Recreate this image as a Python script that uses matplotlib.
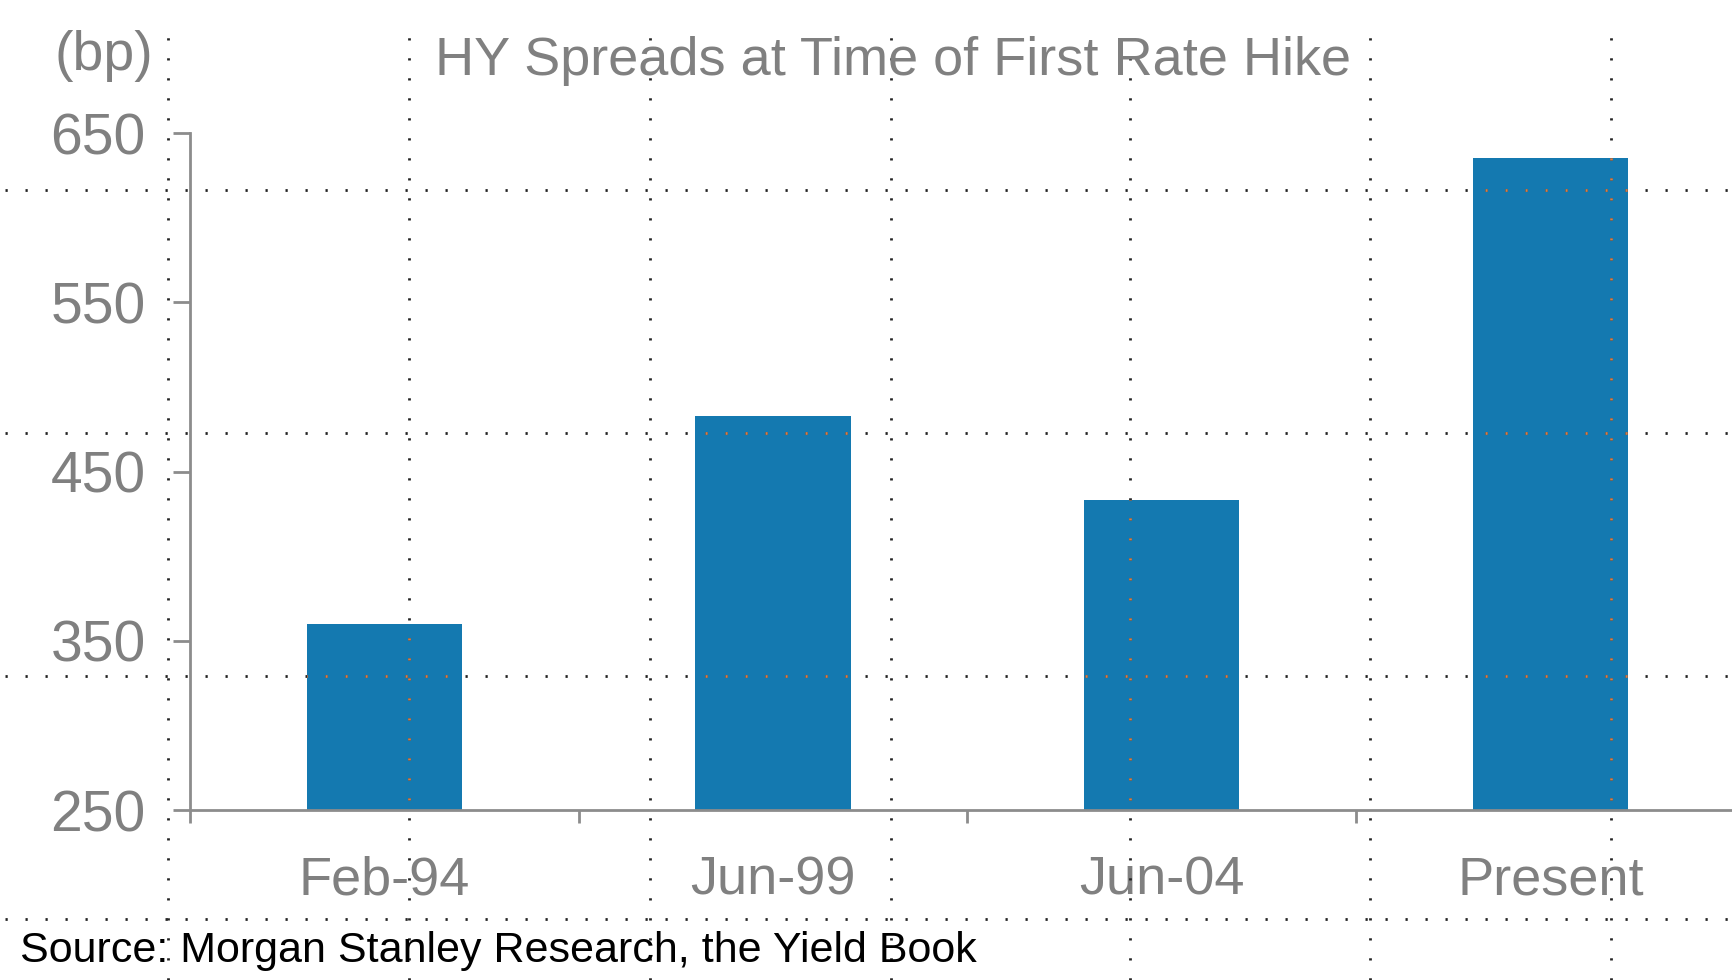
import numpy as np
import matplotlib.pyplot as plt
from matplotlib.lines import Line2D
from matplotlib.patches import Rectangle

#chart data
categories = ["Feb-94", "Jun-99", "Jun-04", "Present"]
spreads = [360, 483, 433, 635]
yticks = [250, 350, 450, 550, 650]

#overlay grid positions (figure pixels)
grid_x = [168, 409, 650, 891, 1130, 1370, 1611]
grid_y = [190, 433, 676, 919]

W, H = 1733, 980
plt.rcParams['font.family'] = ['Liberation Sans', 'DejaVu Sans']
grey = '#808080'
axis_grey = '#8c8c8c'
bar_blue = '#1479b0'

fig = plt.figure(figsize=(W/100, H/100), dpi=100)
ax = fig.add_axes([190/W, 170/H, 1 - 190/W, (847-170)/H])

x = np.arange(len(categories))
bars = ax.bar(x, spreads, width=0.4, color=bar_blue, zorder=2)

ymin, ymax = 250, 650
ax.set_ylim(ymin, ymax)
ax.set_xlim(-0.5, 3.47)
ax.set_yticks(yticks)
ax.set_yticklabels([str(v) for v in yticks])
ax.tick_params(axis='y', direction='out', length=12, width=2, color=axis_grey,
               labelsize=41, labelcolor=grey, pad=20)

#major ticks at category boundaries, labels on minor ticks
ax.set_xticks([-0.5, 0.5, 1.5, 2.5])
ax.set_xticklabels([])
ax.set_xticks(x, minor=True)
ax.set_xticklabels(categories, minor=True)
ax.tick_params(axis='x', which='major', direction='out', length=9.5, width=2, color=axis_grey)
ax.tick_params(axis='x', which='minor', length=0, labelsize=39, labelcolor=grey, pad=33)

for s in ['top', 'right']:
    ax.spines[s].set_visible(False)
for s in ['left', 'bottom']:
    ax.spines[s].set_color(axis_grey)
    ax.spines[s].set_linewidth(2)

fig.text(893/W, 1 - 61/H, "HY Spreads at Time of First Rate Hike", ha='center', va='center',
         fontsize=39, color=grey)
fig.text(55/W, 1 - 56/H, "(bp)", ha='left', va='center', fontsize=40, color=grey)
fig.text(20/W, 1 - 951/H, "Source: Morgan Stanley Research, the Yield Book", ha='left', va='center',
         fontsize=31, color='black')

#dotted overlay grid: dark on white, orange over the bars
def dotted(xs, ys, color, z, clip=None):
    ln = Line2D(xs, ys, transform=fig.transFigure, color=color, lw=2,
                linestyle=(0, (0.8, 6.4)), zorder=z)
    fig.add_artist(ln)
    if clip is not None:
        ln.set_clip_path(clip)
    return ln

for gx in grid_x:
    dotted([gx/W, gx/W], [0, 1 - 28/H], '#222222', 1)
for gy in grid_y:
    dotted([5/W, 1], [1 - gy/H, 1 - gy/H], '#222222', 1)

#clip shapes: visible part of each bar
for b in bars:
    clip = Rectangle((b.get_x(), ymin), b.get_width(), b.get_height() - ymin,
                     transform=ax.transData)
    for gx in grid_x:
        dotted([gx/W, gx/W], [0, 1 - 28/H], '#d08050', 5, clip=clip)
    for gy in grid_y:
        dotted([5/W, 1], [1 - gy/H, 1 - gy/H], '#d08050', 5, clip=clip)

fig.savefig('out.png', dpi=100)
